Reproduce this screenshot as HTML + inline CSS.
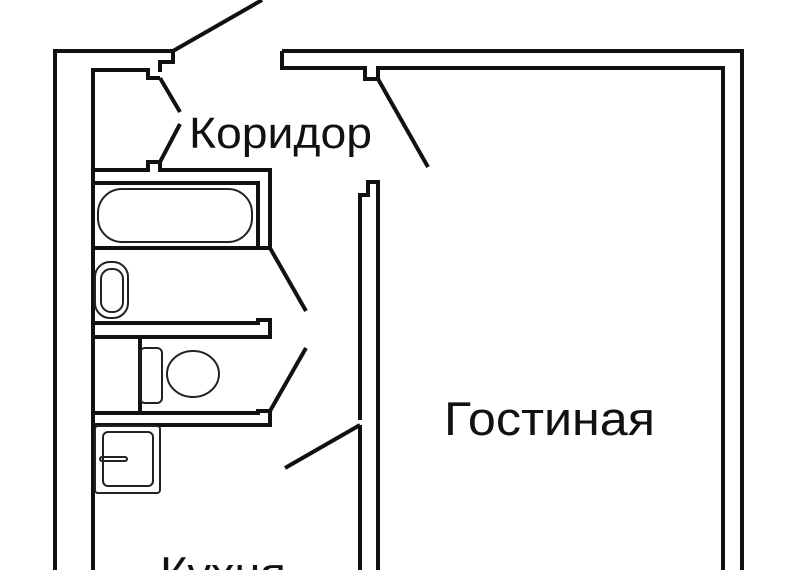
<!DOCTYPE html>
<html><head><meta charset="utf-8"><style>
html,body{margin:0;padding:0;background:#fff;width:800px;height:570px;overflow:hidden}
svg{display:block}
</style></head><body>
<svg width="800" height="570" viewBox="0 0 800 570" xmlns="http://www.w3.org/2000/svg">
<g fill="none" stroke="#111" stroke-width="4" stroke-linejoin="miter">
<polyline points="55,570 55,51 173,51 173,62 160,62 160,72"/>
<polyline points="93,170 93,70 148,70 148,78 160,78"/>
<polyline points="93,170 148,170 148,162 160,162 160,170 270,170 270,248"/>
<polyline points="282,51 742,51 742,570"/>
<polyline points="282,51 282,68 365,68 365,79 378,79 378,68 723,68 723,570"/>
<polyline points="360,570 360,425"/>
<polyline points="360,420 360,195 368,195 368,182 378,182 378,570"/>
<polyline points="93,170 93,570"/>
<polyline points="93,183 258,183 258,248 270,248"/>
<line x1="93" y1="248" x2="258" y2="248"/>
<polyline points="93,323 258,323 258,320 270,320 270,337 258,337 93,337"/>
<line x1="140" y1="337" x2="140" y2="413"/>
<polyline points="93,413 258,413 258,411 270,411 270,425 93,425"/>
<line x1="173" y1="51" x2="262" y2="0"/>
<line x1="160" y1="78" x2="180" y2="112"/>
<line x1="160" y1="162" x2="180" y2="124"/>
<line x1="378" y1="79" x2="428" y2="167"/>
<line x1="270" y1="248" x2="306" y2="311"/>
<line x1="306" y1="348" x2="270" y2="411"/>
<line x1="360" y1="425" x2="285" y2="468"/>
</g>
<g fill="none" stroke="#222" stroke-width="2">
<rect x="98" y="189" width="154" height="53" rx="24"/>
<rect x="95" y="262" width="33" height="56" rx="15"/>
<rect x="101" y="269" width="22" height="43" rx="10"/>
<rect x="140" y="348" width="22" height="55" rx="5"/>
<ellipse cx="193" cy="374" rx="26" ry="23"/>
<rect x="95" y="426" width="65" height="67" rx="3"/>
<rect x="103" y="432" width="50" height="54" rx="5"/>
<rect x="100" y="457" width="27" height="4" rx="2"/>
</g>
<g font-family="'Liberation Sans', sans-serif" fill="#111">
<text x="189" y="148" font-size="44" textLength="183" lengthAdjust="spacingAndGlyphs">Коридор</text>
<text x="444" y="435" font-size="47" textLength="211" lengthAdjust="spacingAndGlyphs">Гостиная</text>
<text x="160" y="590" font-size="47">Кухня</text>
</g>
</svg>
</body></html>
